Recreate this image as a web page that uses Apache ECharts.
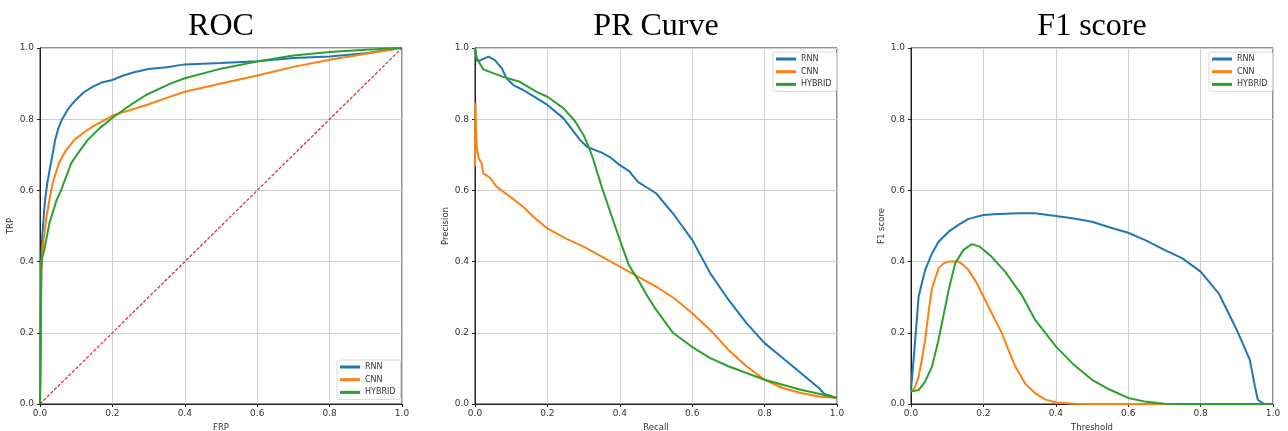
<!DOCTYPE html>
<html>
<head>
<meta charset="utf-8">
<script src="https://cdn.jsdelivr.net/npm/echarts@6/dist/echarts.min.js"></script>
<style>html,body{margin:0;padding:0;background:#fff}#c{width:1288px;height:431px}</style>
</head>
<body>
<div id="c"></div>
<script>
// ---------- data ----------
const seriesNames = ['RNN', 'CNN', 'HYBRID'];
const panelTitles = ['ROC', 'PR Curve', 'F1 score'];
const xNames = ['FRP', 'Recall', 'Threshold'];
const yNames = ['TRP', 'Precision', 'F1 score'];

const rocRNN = [[0,0],[0.002,0.2],[0.004,0.4],[0.006,0.47],[0.009,0.51],[0.014,0.573],[0.02,0.62],[0.03,0.676],[0.042,0.742],[0.051,0.775],[0.061,0.8],[0.076,0.826],[0.088,0.842],[0.099,0.854],[0.12,0.875],[0.145,0.891],[0.17,0.903],[0.2,0.91],[0.228,0.922],[0.26,0.932],[0.3,0.941],[0.35,0.946],[0.4,0.954],[0.5,0.958],[0.6,0.963],[0.7,0.972],[0.8,0.976],[0.9,0.985],[1,1]];
const rocCNN = [[0,0],[0.002,0.2],[0.004,0.4],[0.01,0.46],[0.017,0.52],[0.026,0.573],[0.035,0.62],[0.052,0.676],[0.07,0.71],[0.095,0.742],[0.12,0.762],[0.145,0.779],[0.175,0.796],[0.204,0.812],[0.25,0.826],[0.3,0.842],[0.35,0.86],[0.4,0.877],[0.5,0.9],[0.6,0.923],[0.7,0.947],[0.8,0.967],[0.9,0.984],[1,1]];
const rocHYBRID = [[0,0],[0.002,0.2],[0.003,0.38],[0.006,0.41],[0.012,0.433],[0.026,0.508],[0.046,0.573],[0.058,0.6],[0.086,0.676],[0.11,0.712],[0.132,0.742],[0.165,0.775],[0.204,0.807],[0.25,0.84],[0.293,0.868],[0.36,0.9],[0.4,0.915],[0.5,0.942],[0.6,0.962],[0.7,0.979],[0.8,0.989],[0.9,0.995],[1,1]];
const rocDiagonal = [[0,0],[1,1]];

const prRNN = [[0,1.0],[0.002,0.99],[0.004,0.965],[0.01,0.963],[0.02,0.968],[0.037,0.976],[0.055,0.966],[0.074,0.943],[0.087,0.915],[0.106,0.896],[0.133,0.882],[0.17,0.859],[0.2,0.84],[0.244,0.803],[0.29,0.742],[0.31,0.722],[0.35,0.706],[0.375,0.692],[0.4,0.671],[0.425,0.655],[0.45,0.624],[0.5,0.592],[0.55,0.531],[0.6,0.461],[0.65,0.367],[0.7,0.293],[0.75,0.227],[0.8,0.171],[0.85,0.129],[0.9,0.087],[0.95,0.045],[0.965,0.028],[1,0.017]];
const prCNN = [[0,0.667],[0.0015,0.845],[0.003,0.77],[0.005,0.72],[0.01,0.69],[0.018,0.677],[0.023,0.648],[0.041,0.636],[0.06,0.61],[0.097,0.582],[0.133,0.554],[0.161,0.526],[0.2,0.493],[0.25,0.465],[0.3,0.442],[0.35,0.414],[0.4,0.386],[0.45,0.358],[0.5,0.33],[0.55,0.297],[0.6,0.255],[0.65,0.208],[0.7,0.152],[0.75,0.106],[0.8,0.068],[0.85,0.045],[0.9,0.031],[0.95,0.021],[1,0.017]];
const prHYBRID = [[0,1.0],[0.004,0.975],[0.014,0.955],[0.023,0.94],[0.041,0.933],[0.078,0.919],[0.124,0.905],[0.17,0.877],[0.2,0.863],[0.244,0.831],[0.276,0.795],[0.3,0.755],[0.315,0.72],[0.327,0.686],[0.35,0.61],[0.375,0.535],[0.4,0.461],[0.425,0.39],[0.45,0.35],[0.478,0.3],[0.5,0.265],[0.547,0.2],[0.6,0.16],[0.65,0.129],[0.7,0.106],[0.75,0.087],[0.8,0.068],[0.85,0.054],[0.9,0.04],[0.95,0.029],[1,0.017]];

const f1RNN = [[0,0.039],[0.01,0.16],[0.021,0.301],[0.03,0.34],[0.039,0.376],[0.058,0.423],[0.076,0.456],[0.104,0.484],[0.131,0.503],[0.159,0.52],[0.2,0.531],[0.242,0.534],[0.3,0.536],[0.343,0.536],[0.4,0.528],[0.45,0.521],[0.5,0.512],[0.55,0.496],[0.6,0.481],[0.65,0.459],[0.7,0.433],[0.75,0.409],[0.8,0.372],[0.85,0.311],[0.9,0.208],[0.936,0.124],[0.95,0.05],[0.958,0.012],[0.975,0],[1,0]];
const f1CNN = [[0,0.035],[0.01,0.045],[0.021,0.077],[0.03,0.125],[0.039,0.18],[0.05,0.27],[0.058,0.325],[0.076,0.381],[0.09,0.395],[0.104,0.4],[0.131,0.4],[0.145,0.39],[0.159,0.376],[0.182,0.339],[0.214,0.273],[0.251,0.199],[0.27,0.15],[0.288,0.105],[0.315,0.058],[0.343,0.03],[0.37,0.013],[0.4,0.004],[0.45,0.001],[0.5,0],[1,0]];
const f1HYBRID = [[0,0.035],[0.021,0.039],[0.039,0.063],[0.058,0.105],[0.076,0.18],[0.09,0.25],[0.104,0.32],[0.122,0.395],[0.145,0.433],[0.168,0.449],[0.19,0.442],[0.222,0.414],[0.26,0.372],[0.306,0.306],[0.343,0.236],[0.4,0.162],[0.45,0.11],[0.5,0.068],[0.55,0.04],[0.6,0.017],[0.65,0.006],[0.7,0.001],[0.75,0],[1,0]];

// ---------- layout ----------
const colors = ['#1f77b4', '#ff7f0e', '#2ca02c'];
const gridLefts = [40, 475, 911];
const gridTop = 48, gridW = 362, gridH = 356;
const legendPos = [{left: 337, top: 360}, {left: 773, top: 52}, {left: 1209, top: 52}];
const panelData = [[rocRNN, rocCNN, rocHYBRID], [prRNN, prCNN, prHYBRID], [f1RNN, f1CNN, f1HYBRID]];
const tickFont = 'DejaVu Sans';

const option = {
  backgroundColor: '#fff',
  animation: false,
  title: panelTitles.map((t, i) => ({
    text: t, left: gridLefts[i] + gridW / 2, top: 11, textAlign: 'center', padding: 0,
    textStyle: {fontFamily: 'Liberation Serif', fontSize: 32, fontWeight: 'normal', color: '#000'}
  })),
  grid: gridLefts.map(l => ({left: l, top: gridTop, width: gridW, height: gridH, outerBoundsMode: 'none', containLabel: false, show: true, borderColor: '#222', borderWidth: 1, backgroundColor: 'transparent'})),
  legend: legendPos.map(p => ({
    data: seriesNames, orient: 'vertical', left: p.left, top: p.top,
    padding: [2, 5, 2, 3], itemGap: 2.7, itemWidth: 20, itemHeight: 3, icon: 'rect',
    borderColor: '#d8d8d8', borderWidth: 1, borderRadius: 2, backgroundColor: 'rgba(255,255,255,0.85)',
    textStyle: {fontFamily: tickFont, fontSize: 8, color: '#333', lineHeight: 10}
  })),
  xAxis: gridLefts.map((l, i) => ({
    type: 'value', gridIndex: i, min: 0, max: 1, interval: 0.2,
    name: xNames[i], nameLocation: 'middle', nameGap: 16,
    nameTextStyle: {fontFamily: tickFont, fontSize: 8.5, color: '#333'},
    axisLine: {show: true, lineStyle: {color: '#222', width: 1}},
    axisTick: {show: true, length: 3, lineStyle: {color: '#222'}},
    axisLabel: {margin: 5, fontFamily: tickFont, fontSize: 9, color: '#333', formatter: v => v.toFixed(1)},
    splitLine: {show: true, lineStyle: {color: '#cfcfcf', width: 1}}
  })),
  yAxis: gridLefts.map((l, i) => ({
    type: 'value', gridIndex: i, min: 0, max: 1, interval: 0.2,
    name: yNames[i], nameLocation: 'middle', nameGap: 22,
    nameTextStyle: {fontFamily: tickFont, fontSize: 8.5, color: '#333'},
    axisLine: {show: true, lineStyle: {color: '#222', width: 1}},
    axisTick: {show: true, length: 3, lineStyle: {color: '#222'}},
    axisLabel: {margin: 6, fontFamily: tickFont, fontSize: 9, color: '#333', formatter: v => v.toFixed(1)},
    splitLine: {show: true, lineStyle: {color: '#cfcfcf', width: 1}}
  })),
  series: []
};

panelData.forEach((arrs, i) => {
  arrs.forEach((d, k) => {
    option.series.push({
      type: 'line', name: seriesNames[k], xAxisIndex: i, yAxisIndex: i, data: d,
      showSymbol: false, symbol: 'none', color: colors[k],
      lineStyle: {color: colors[k], width: 2}, z: 3 + k
    });
  });
});
option.series.push({
  type: 'line', name: 'chance', xAxisIndex: 0, yAxisIndex: 0, data: rocDiagonal,
  showSymbol: false, symbol: 'none', lineStyle: {color: '#d62728', width: 1.2, type: [3.3, 1.7]}, z: 2
});

const chart = echarts.init(document.getElementById('c'), null, {renderer: 'canvas'});
chart.setOption(option);
</script>
</body>
</html>
